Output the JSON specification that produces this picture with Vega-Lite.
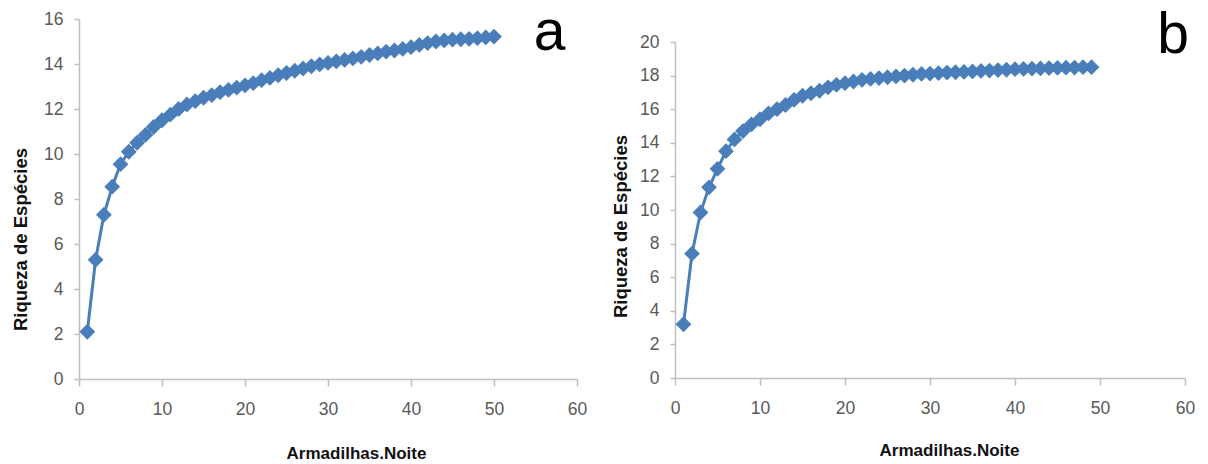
{
  "$schema": "https://vega.github.io/schema/vega-lite/v6.json",
  "background": "white",
  "padding": {"left": 11, "top": 4, "right": 0, "bottom": 0},
  "config": {
    "view": {"stroke": null},
    "concat": {"spacing": 24},
    "axis": {
      "grid": false,
      "domainColor": "#bfbfbf",
      "domainWidth": 1.5,
      "tickColor": "#bfbfbf",
      "tickWidth": 1.5,
      "labelColor": "#595959",
      "labelFont": "Liberation Sans",
      "labelFontSize": 17.5,
      "labelFlush": false,
      "labelOverlap": false,
      "labelSeparation": -10,
      "labelBound": false,
      "titleColor": "#111111",
      "titleFont": "Liberation Sans",
      "titleFontWeight": "bold",
      "titleBaseline": "middle",
      "titleAlign": "center"
    },
    "line": {"color": "#4a7ebb", "strokeWidth": 3},
    "point": {"color": "#4a7ebb", "shape": "diamond", "filled": true, "size": 250, "opacity": 1},
    "text": {"font": "Liberation Sans", "fontSize": 57, "baseline": "alphabetic", "align": "center", "color": "#000000"}
  },
  "datasets": {
    "curvaA": [
      {"armadilhas": 1, "riqueza": 2.1}, {"armadilhas": 2, "riqueza": 5.3}, {"armadilhas": 3, "riqueza": 7.3},
      {"armadilhas": 4, "riqueza": 8.55}, {"armadilhas": 5, "riqueza": 9.55}, {"armadilhas": 6, "riqueza": 10.1},
      {"armadilhas": 7, "riqueza": 10.5}, {"armadilhas": 8, "riqueza": 10.85}, {"armadilhas": 9, "riqueza": 11.2},
      {"armadilhas": 10, "riqueza": 11.5}, {"armadilhas": 11, "riqueza": 11.75}, {"armadilhas": 12, "riqueza": 12.0},
      {"armadilhas": 13, "riqueza": 12.2}, {"armadilhas": 14, "riqueza": 12.35}, {"armadilhas": 15, "riqueza": 12.5},
      {"armadilhas": 16, "riqueza": 12.62}, {"armadilhas": 17, "riqueza": 12.75}, {"armadilhas": 18, "riqueza": 12.85},
      {"armadilhas": 19, "riqueza": 12.95}, {"armadilhas": 20, "riqueza": 13.05}, {"armadilhas": 21, "riqueza": 13.15},
      {"armadilhas": 22, "riqueza": 13.28}, {"armadilhas": 23, "riqueza": 13.38}, {"armadilhas": 24, "riqueza": 13.5},
      {"armadilhas": 25, "riqueza": 13.6}, {"armadilhas": 26, "riqueza": 13.7}, {"armadilhas": 27, "riqueza": 13.8},
      {"armadilhas": 28, "riqueza": 13.9}, {"armadilhas": 29, "riqueza": 13.98}, {"armadilhas": 30, "riqueza": 14.05},
      {"armadilhas": 31, "riqueza": 14.12}, {"armadilhas": 32, "riqueza": 14.18}, {"armadilhas": 33, "riqueza": 14.25},
      {"armadilhas": 34, "riqueza": 14.32}, {"armadilhas": 35, "riqueza": 14.4}, {"armadilhas": 36, "riqueza": 14.47},
      {"armadilhas": 37, "riqueza": 14.55}, {"armadilhas": 38, "riqueza": 14.6}, {"armadilhas": 39, "riqueza": 14.67},
      {"armadilhas": 40, "riqueza": 14.75}, {"armadilhas": 41, "riqueza": 14.85}, {"armadilhas": 42, "riqueza": 14.93},
      {"armadilhas": 43, "riqueza": 15.0}, {"armadilhas": 44, "riqueza": 15.05}, {"armadilhas": 45, "riqueza": 15.08},
      {"armadilhas": 46, "riqueza": 15.1}, {"armadilhas": 47, "riqueza": 15.12}, {"armadilhas": 48, "riqueza": 15.15},
      {"armadilhas": 49, "riqueza": 15.18}, {"armadilhas": 50, "riqueza": 15.22}
    ],
    "curvaB": [
      {"armadilhas": 1, "riqueza": 3.2}, {"armadilhas": 2, "riqueza": 7.4}, {"armadilhas": 3, "riqueza": 9.85},
      {"armadilhas": 4, "riqueza": 11.35}, {"armadilhas": 5, "riqueza": 12.45}, {"armadilhas": 6, "riqueza": 13.5},
      {"armadilhas": 7, "riqueza": 14.2}, {"armadilhas": 8, "riqueza": 14.7}, {"armadilhas": 9, "riqueza": 15.1},
      {"armadilhas": 10, "riqueza": 15.4}, {"armadilhas": 11, "riqueza": 15.75}, {"armadilhas": 12, "riqueza": 16.0},
      {"armadilhas": 13, "riqueza": 16.25}, {"armadilhas": 14, "riqueza": 16.55}, {"armadilhas": 15, "riqueza": 16.8},
      {"armadilhas": 16, "riqueza": 16.95}, {"armadilhas": 17, "riqueza": 17.1}, {"armadilhas": 18, "riqueza": 17.3},
      {"armadilhas": 19, "riqueza": 17.45}, {"armadilhas": 20, "riqueza": 17.55}, {"armadilhas": 21, "riqueza": 17.65},
      {"armadilhas": 22, "riqueza": 17.75}, {"armadilhas": 23, "riqueza": 17.8}, {"armadilhas": 24, "riqueza": 17.85},
      {"armadilhas": 25, "riqueza": 17.9}, {"armadilhas": 26, "riqueza": 17.95}, {"armadilhas": 27, "riqueza": 18.0},
      {"armadilhas": 28, "riqueza": 18.05}, {"armadilhas": 29, "riqueza": 18.1}, {"armadilhas": 30, "riqueza": 18.12},
      {"armadilhas": 31, "riqueza": 18.15}, {"armadilhas": 32, "riqueza": 18.18}, {"armadilhas": 33, "riqueza": 18.2},
      {"armadilhas": 34, "riqueza": 18.22}, {"armadilhas": 35, "riqueza": 18.25}, {"armadilhas": 36, "riqueza": 18.28},
      {"armadilhas": 37, "riqueza": 18.3}, {"armadilhas": 38, "riqueza": 18.33}, {"armadilhas": 39, "riqueza": 18.35},
      {"armadilhas": 40, "riqueza": 18.38}, {"armadilhas": 41, "riqueza": 18.4}, {"armadilhas": 42, "riqueza": 18.42},
      {"armadilhas": 43, "riqueza": 18.43}, {"armadilhas": 44, "riqueza": 18.45}, {"armadilhas": 45, "riqueza": 18.46},
      {"armadilhas": 46, "riqueza": 18.47}, {"armadilhas": 47, "riqueza": 18.48}, {"armadilhas": 48, "riqueza": 18.5},
      {"armadilhas": 49, "riqueza": 18.5}
    ],
    "paineis": [
      {"painel": "a"},
      {"painel": "b"}
    ]
  },
  "hconcat": [
    {
      "width": 498,
      "height": 360,
      "layer": [
        {
          "data": {"name": "curvaA"},
          "mark": {"type": "line"},
          "encoding": {
            "x": {
              "field": "armadilhas", "type": "quantitative",
              "scale": {"domain": [0, 60], "nice": false},
              "axis": {
                "title": "Armadilhas.Noite", "values": [0, 10, 20, 30, 40, 50, 60],
                "tickSize": 7, "labelPadding": 14, "titleFontSize": 17,
                "titleX": 277, "titleY": 74
              }
            },
            "y": {
              "field": "riqueza", "type": "quantitative",
              "scale": {"domain": [0, 16], "nice": false},
              "axis": {
                "title": "Riqueza de Espécies", "values": [0, 2, 4, 6, 8, 10, 12, 14, 16],
                "tickSize": 5, "labelPadding": 11, "titleFontSize": 18.5,
                "titleAngle": -90, "titleX": -59, "titleY": 220
              }
            }
          }
        },
        {
          "data": {"name": "curvaA"},
          "mark": {"type": "point"},
          "encoding": {
            "x": {"field": "armadilhas", "type": "quantitative"},
            "y": {"field": "riqueza", "type": "quantitative"}
          }
        },
        {
          "data": {"name": "paineis"},
          "transform": [{"filter": "datum.painel === 'a'"}],
          "mark": {"type": "text"},
          "encoding": {
            "x": {"datum": 56.7, "type": "quantitative"},
            "y": {"datum": 14.62, "type": "quantitative"},
            "text": {"field": "painel", "type": "nominal"}
          }
        }
      ]
    },
    {
      "width": 510,
      "height": 359,
      "layer": [
        {
          "data": {"name": "curvaB"},
          "mark": {"type": "line"},
          "encoding": {
            "x": {
              "field": "armadilhas", "type": "quantitative",
              "scale": {"domain": [0, 60], "nice": false},
              "axis": {
                "title": "Armadilhas.Noite", "values": [0, 10, 20, 30, 40, 50, 60],
                "tickSize": 7, "labelPadding": 14, "titleFontSize": 17,
                "titleX": 274, "titleY": 72
              }
            },
            "y": {
              "field": "riqueza", "type": "quantitative",
              "scale": {"domain": [0, 20], "nice": false, "range": [359, 23]},
              "axis": {
                "title": "Riqueza de Espécies", "values": [0, 2, 4, 6, 8, 10, 12, 14, 16, 18, 20],
                "tickSize": 5, "labelPadding": 11, "labelOverlap": false, "labelSeparation": -10,
                "titleFontSize": 18.5,
                "titleAngle": -90, "titleX": -55, "titleY": 207
              }
            }
          }
        },
        {
          "data": {"name": "curvaB"},
          "mark": {"type": "point"},
          "encoding": {
            "x": {"field": "armadilhas", "type": "quantitative"},
            "y": {
              "field": "riqueza", "type": "quantitative",
              "axis": {
                "title": "Riqueza de Espécies", "values": [0, 2, 4, 6, 8, 10, 12, 14, 16, 18, 20],
                "tickSize": 5, "labelPadding": 11, "labelOverlap": false, "labelSeparation": -10,
                "titleFontSize": 18.5,
                "titleAngle": -90, "titleX": -55, "titleY": 207
              }
            }
          }
        },
        {
          "data": {"name": "paineis"},
          "transform": [{"filter": "datum.painel === 'b'"}],
          "mark": {"type": "text"},
          "encoding": {
            "x": {"datum": 58.6, "type": "quantitative"},
            "y": {
              "datum": 19.33, "type": "quantitative",
              "axis": {
                "title": "Riqueza de Espécies", "values": [0, 2, 4, 6, 8, 10, 12, 14, 16, 18, 20],
                "tickSize": 5, "labelPadding": 11, "labelOverlap": false, "labelSeparation": -10,
                "titleFontSize": 18.5,
                "titleAngle": -90, "titleX": -55, "titleY": 207
              }
            },
            "text": {"field": "painel", "type": "nominal"}
          }
        }
      ]
    }
  ]
}
